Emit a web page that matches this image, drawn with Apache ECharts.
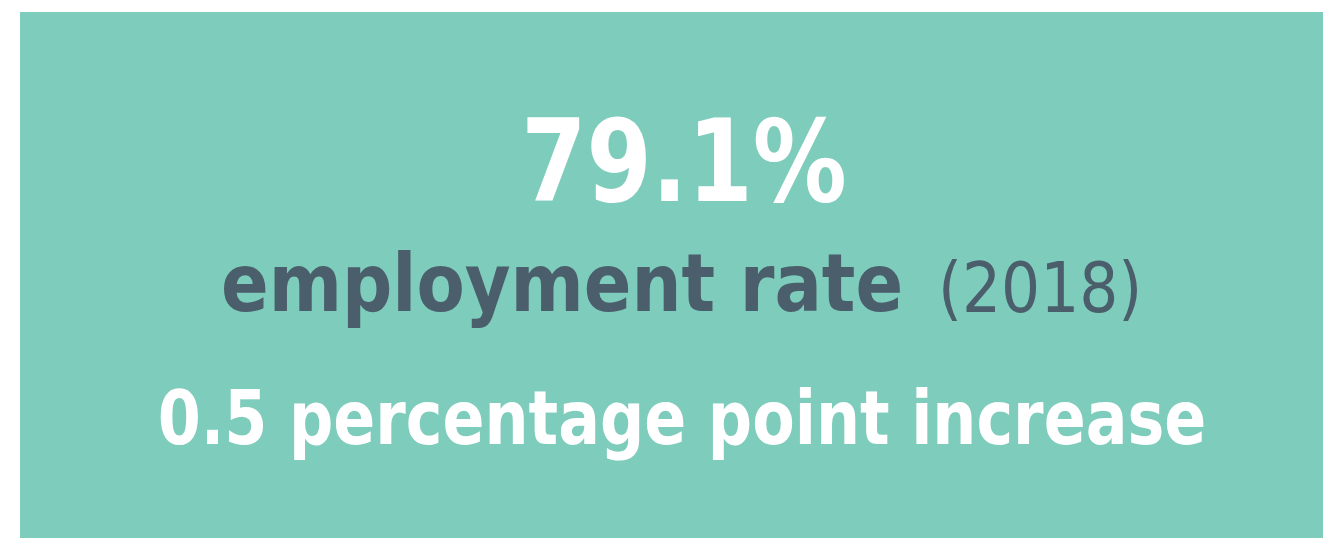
<!DOCTYPE html>
<html>
<head>
<meta charset="utf-8">
<script src="https://cdn.jsdelivr.net/npm/echarts@6/dist/echarts.min.js"></script>
<style>
  html, body { margin: 0; padding: 0; background: #fff; }
  #main { width: 1323px; height: 538px; }
</style>
</head>
<body>
<div id="main"></div>
<script>
// figures shown on the tile
const headline = ['79.1%'];
const labels = ['employment rate'];
const years = ['(2018)'];
const changes = ['0.5 percentage point increase'];

const tileColor = '#7eccbb';
const darkText = '#4b5e6b';
const cond = '"DejaVu Sans Condensed", "DejaVu Sans"';

let chart = echarts.init(document.getElementById('main'));
let option = {
    backgroundColor: '#fff',
    graphic: [
        {
            type: 'rect',
            shape: { x: 20, y: 12, width: 1303, height: 526 },
            style: { fill: tileColor }
        },
        {
            type: 'text',
            x: 684, y: 171, scaleX: 0.915,
            style: {
                text: headline[0],
                fill: '#fff',
                font: 'bold 114px ' + cond,
                align: 'center',
                verticalAlign: 'middle'
            }
        },
        {
            type: 'text',
            x: 221, y: 290, scaleX: 0.977,
            style: {
                text: labels[0],
                fill: darkText,
                font: 'bold 80px ' + cond,
                align: 'left',
                verticalAlign: 'middle'
            }
        },
        {
            type: 'text',
            x: 938, y: 294, scaleX: 0.99,
            style: {
                text: years[0],
                fill: darkText,
                font: '69px ' + cond,
                align: 'left',
                verticalAlign: 'middle'
            }
        },
        {
            type: 'text',
            x: 682, y: 425, scaleX: 0.93,
            style: {
                text: changes[0],
                fill: '#fff',
                font: 'bold 74px ' + cond,
                align: 'center',
                verticalAlign: 'middle'
            }
        }
    ]
};
chart.setOption(option, true);
window.addEventListener('resize', function () { chart.resize(); });
</script>
</body>
</html>
